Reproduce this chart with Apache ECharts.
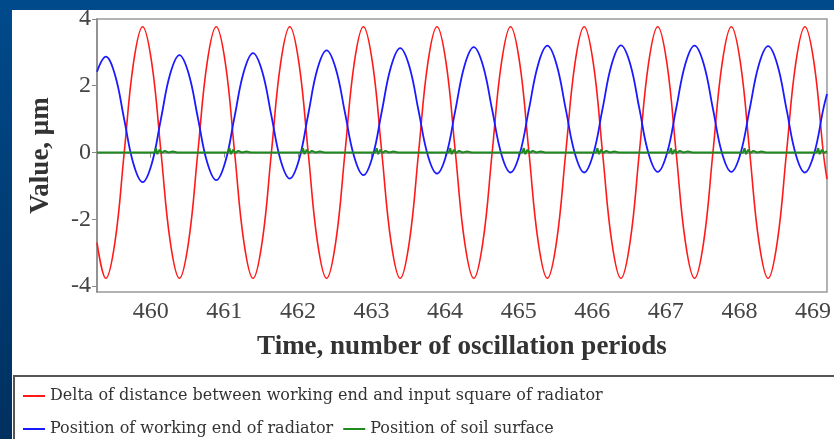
<!DOCTYPE html>
<html>
<head>
<meta charset="utf-8">
<script src="https://cdn.jsdelivr.net/npm/echarts@6/dist/echarts.min.js"></script>
<style>
html,body{margin:0;padding:0;}
#chartDiv{width:834px;height:439px;}
</style>
</head>
<body>
<div id="chartDiv"></div>
<script>
// 读取自图片的数据
var xTicks = [460, 461, 462, 463, 464, 465, 466, 467, 468, 469];
var yTicks = [-4, -2, 0, 2, 4];
var seriesNames = [
    'Delta of distance between working end and input square of radiator',
    'Position of working end of radiator',
    'Position of soil surface'
];

var waveTime = [459.27,
    459.39, 459.515, 459.64, 459.765, 459.89, 460.015, 460.14, 460.265,
    460.39, 460.515, 460.64, 460.765, 460.89, 461.015, 461.14, 461.265,
    461.39, 461.515, 461.64, 461.765, 461.89, 462.015, 462.14, 462.265,
    462.39, 462.515, 462.64, 462.765, 462.89, 463.015, 463.14, 463.265,
    463.39, 463.515, 463.64, 463.765, 463.89, 464.015, 464.14, 464.265,
    464.39, 464.515, 464.64, 464.765, 464.89, 465.015, 465.14, 465.265,
    465.39, 465.515, 465.64, 465.765, 465.89, 466.015, 466.14, 466.265,
    466.39, 466.515, 466.64, 466.765, 466.89, 467.015, 467.14, 467.265,
    467.39, 467.515, 467.64, 467.765, 467.89, 468.015, 468.14, 468.265,
    468.39, 468.515, 468.64, 468.765, 468.89, 469.015, 469.14,
    469.19];

var deltaValue = [-2.7,
    -3.77, -2.67, 0, 2.67, 3.77, 2.67, 0, -2.67,
    -3.77, -2.67, 0, 2.67, 3.77, 2.67, 0, -2.67,
    -3.77, -2.67, 0, 2.67, 3.77, 2.67, 0, -2.67,
    -3.77, -2.67, 0, 2.67, 3.77, 2.67, 0, -2.67,
    -3.77, -2.67, 0, 2.67, 3.77, 2.67, 0, -2.67,
    -3.77, -2.67, 0, 2.67, 3.77, 2.67, 0, -2.67,
    -3.77, -2.67, 0, 2.67, 3.77, 2.67, 0, -2.67,
    -3.77, -2.67, 0, 2.67, 3.77, 2.67, 0, -2.67,
    -3.77, -2.67, 0, 2.67, 3.77, 2.67, 0, -2.67,
    -3.77, -2.67, 0, 2.67, 3.77, 2.67, 0,
    -0.8];

var workingEndValue = [2.42,
    2.87, 2.32, 0.99, -0.34, -0.89, -0.33, 1.02, 2.36,
    2.92, 2.37, 1.05, -0.28, -0.83, -0.27, 1.08, 2.42,
    2.98, 2.43, 1.1, -0.23, -0.78, -0.22, 1.14, 2.5,
    3.06, 2.51, 1.19, -0.13, -0.68, -0.12, 1.23, 2.57,
    3.13, 2.58, 1.25, -0.08, -0.63, -0.08, 1.27, 2.61,
    3.16, 2.61, 1.28, -0.05, -0.6, -0.04, 1.3, 2.64,
    3.2, 2.64, 1.3, -0.04, -0.6, -0.04, 1.31, 2.65,
    3.21, 2.66, 1.32, -0.03, -0.58, -0.03, 1.31, 2.65,
    3.2, 2.65, 1.31, -0.03, -0.58, -0.03, 1.31, 2.64,
    3.19, 2.64, 1.3, -0.05, -0.6, -0.04, 1.3,
    1.75];

var soilTime = [459.27,
    460.05, 460.07, 460.09, 460.12, 460.15, 460.19, 460.24, 460.3, 460.36,
    461.05, 461.07, 461.09, 461.12, 461.15, 461.19, 461.24, 461.3, 461.36,
    462.05, 462.07, 462.09, 462.12, 462.15, 462.19, 462.24, 462.3, 462.36,
    463.05, 463.07, 463.09, 463.12, 463.15, 463.19, 463.24, 463.3, 463.36,
    464.05, 464.07, 464.09, 464.12, 464.15, 464.19, 464.24, 464.3, 464.36,
    465.05, 465.07, 465.09, 465.12, 465.15, 465.19, 465.24, 465.3, 465.36,
    466.05, 466.07, 466.09, 466.12, 466.15, 466.19, 466.24, 466.3, 466.36,
    467.05, 467.07, 467.09, 467.12, 467.15, 467.19, 467.24, 467.3, 467.36,
    468.05, 468.07, 468.09, 468.12, 468.15, 468.19, 468.24, 468.3, 468.36,
    469.05, 469.07, 469.09, 469.12, 469.15, 469.19];

var soilValue = [0.0,
    0.0, 0.13, -0.05, 0.08, -0.01, 0.05, 0.0, 0.03, 0.0,
    0.0, 0.13, -0.05, 0.08, -0.01, 0.05, 0.0, 0.03, 0.0,
    0.0, 0.13, -0.05, 0.08, -0.01, 0.05, 0.0, 0.03, 0.0,
    0.0, 0.13, -0.05, 0.08, -0.01, 0.05, 0.0, 0.03, 0.0,
    0.0, 0.13, -0.05, 0.08, -0.01, 0.05, 0.0, 0.03, 0.0,
    0.0, 0.13, -0.05, 0.08, -0.01, 0.05, 0.0, 0.03, 0.0,
    0.0, 0.13, -0.05, 0.08, -0.01, 0.05, 0.0, 0.03, 0.0,
    0.0, 0.13, -0.05, 0.08, -0.01, 0.05, 0.0, 0.03, 0.0,
    0.0, 0.13, -0.05, 0.08, -0.01, 0.05, 0.0, 0.03, 0.0,
    0.0, 0.13, -0.05, 0.08, -0.01, 0.04];

function zip(t, v) {
    var out = [];
    for (var i = 0; i < t.length; i++) {
        out.push([t[i], v[i]]);
    }
    return out;
}

var myChart = echarts.init(document.getElementById('chartDiv'));
var serif = '"Liberation Serif", "DejaVu Serif", serif';
var legendText = {fontFamily: '"DejaVu Serif", serif', fontSize: 16, color: '#333'};
var option = {
    backgroundColor: new echarts.graphic.LinearGradient(0, 0, 0, 1, [
        {offset: 0, color: '#004a8c'},
        {offset: 1, color: '#00305f'}
    ]),
    animation: false,
    graphic: [
        {type: 'rect', z: -10, shape: {x: 12, y: 10, width: 830, height: 440}, style: {fill: '#ffffff'}},
        {type: 'rect', z: -9, shape: {x: 14, y: 376, width: 830, height: 70},
            style: {fill: 'none', stroke: '#555555', lineWidth: 2}}
    ],
    grid: {
        left: 97, top: 19, right: 7, bottom: 147,
        show: true, borderColor: '#999999', borderWidth: 1.5
    },
    legend: [
        {
            left: 18, top: 383, itemWidth: 22, itemHeight: 2, itemGap: 10,
            icon: 'rect', textStyle: legendText,
            data: [seriesNames[0]]
        },
        {
            left: 18, top: 416, itemWidth: 22, itemHeight: 2, itemGap: 10,
            icon: 'rect', textStyle: legendText,
            data: [seriesNames[1], seriesNames[2]]
        }
    ],
    xAxis: {
        type: 'value',
        min: 459.27,
        max: 469.19,
        name: 'Time, number of oscillation periods',
        nameLocation: 'middle',
        nameGap: 42,
        nameTextStyle: {fontFamily: serif, fontSize: 27, fontWeight: 'bold', color: '#333'},
        axisLine: {lineStyle: {color: '#888', width: 1.5}},
        axisTick: {show: true, length: 5, lineStyle: {color: '#888'}, customValues: xTicks},
        axisLabel: {customValues: xTicks, fontFamily: serif, fontSize: 24, color: '#444', margin: 8},
        splitLine: {show: false}
    },
    yAxis: {
        type: 'value',
        min: -4.18,
        max: 4.0,
        name: 'Value, \u03bcm',
        nameLocation: 'middle',
        nameGap: 42,
        nameTextStyle: {fontFamily: serif, fontSize: 27, fontWeight: 'bold', color: '#333'},
        axisLine: {show: true, lineStyle: {color: '#888', width: 1.5}},
        axisTick: {show: true, length: 5, lineStyle: {color: '#888'}, customValues: yTicks},
        axisLabel: {customValues: yTicks, fontFamily: serif, fontSize: 24, color: '#444', margin: 6},
        splitLine: {show: false}
    },
    series: [
        {
            name: seriesNames[0], type: 'line', data: zip(waveTime, deltaValue),
            smooth: 0.4, symbol: 'none', color: '#ff1a1a',
            lineStyle: {width: 1.6}
        },
        {
            name: seriesNames[1], type: 'line', data: zip(waveTime, workingEndValue),
            smooth: 0.4, symbol: 'none', color: '#1a1aff',
            lineStyle: {width: 1.8}
        },
        {
            name: seriesNames[2], type: 'line', data: zip(soilTime, soilValue),
            symbol: 'none', color: '#1f8a1f',
            lineStyle: {width: 2}
        }
    ]
};
myChart.setOption(option);
</script>
</body>
</html>
